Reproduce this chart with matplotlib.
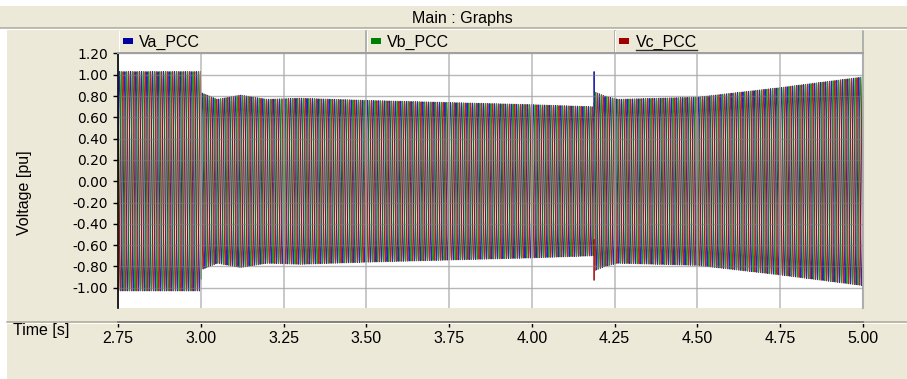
import numpy as np
import matplotlib
matplotlib.use("Agg")
import matplotlib.pyplot as plt
from matplotlib.patches import Rectangle
from matplotlib.lines import Line2D

# Peak value (pu) of the PCC phase voltages at key instants
env_time = [2.75, 2.999, 3.003, 3.05, 3.12, 3.20, 3.30, 3.50, 3.75, 4.00,
            4.186, 4.190, 4.22, 4.26, 4.50, 4.75, 5.00]
env_peak = [1.03, 1.03, 0.83, 0.77, 0.81, 0.77, 0.78, 0.76, 0.74, 0.72,
            0.70, 0.84, 0.80, 0.77, 0.79, 0.88, 0.98]

# Switching transient at the PCC
transient_time = 4.188
va_transient = 1.03
vc_transient = -0.93

freq_hz = 60.0
series_names = ["Va_PCC", "Vb_PCC", "Vc_PCC"]
phase_shift_deg = [0.0, -120.0, 120.0]
series_colors = ["#0000A0", "#008000", "#A00000"]

y_ticks = [-1.00, -0.80, -0.60, -0.40, -0.20, 0.00, 0.20, 0.40, 0.60, 0.80, 1.00, 1.20]
x_ticks = [2.75, 3.00, 3.25, 3.50, 3.75, 4.00, 4.25, 4.50, 4.75, 5.00]

plt.rcParams["font.family"] = ["Liberation Sans", "DejaVu Sans"]

W, H = 907, 379
BEIGE = "#ECE9D8"
EDGE = "#ACA899"


def fx(px):
    return px / W


def fy(py):
    return 1 - py / H


fig = plt.figure(figsize=(W / 100, H / 100), dpi=100)
fig.patch.set_facecolor("white")


def rect(x0, y0, x1, y1, color, z=0):
    fig.add_artist(Rectangle((fx(x0), fy(y1)), (x1 - x0) / W, (y1 - y0) / H,
                             transform=fig.transFigure, facecolor=color,
                             edgecolor="none", zorder=z))


def hline(x0, x1, y, color, lw_px=1.0, z=1):
    fig.add_artist(Line2D([fx(x0), fx(x1)], [fy(y), fy(y)], transform=fig.transFigure,
                          color=color, lw=lw_px * 0.72, zorder=z))


def vline(x, y0, y1, color, lw_px=1.0, z=1):
    fig.add_artist(Line2D([fx(x), fx(x)], [fy(y0), fy(y1)], transform=fig.transFigure,
                          color=color, lw=lw_px * 0.72, zorder=z))


# Window frame: title band and main panel
rect(0, 6, W, 28, BEIGE)
hline(0, W, 28, EDGE, 1.5)
rect(7, 30, W, H, BEIGE)

fig.text(fx(462), fy(23), "Main : Graphs", ha="center", va="baseline", fontsize=11.5)

# Legend header boxes
x_left, x_right = 118, 863
box_w = (x_right - x_left) / 3
legend_texts = []
for i, (name, col) in enumerate(zip(series_names, series_colors)):
    bx = x_left + i * box_w
    rect(bx, 31, bx + box_w, 52, BEIGE, z=1)
    vline(bx + box_w, 31, 52, "#A0A0A0", 1.5, z=2)
    vline(bx + 0.5, 31, 52, "white", 1.0, z=2)
    rect(bx + 4.5, 38, bx + 14.5, 44, col, z=3)
    t = fig.text(fx(bx + 21), fy(47), name, ha="left", va="baseline", fontsize=11.5, zorder=3)
    legend_texts.append(t)
hline(x_left, x_right, 52.5, "#A0A0A0", 2.0, z=2)

# Main plot area
ax = fig.add_axes([fx(x_left), fy(308), (x_right - x_left) / W, (308 - 53.5) / H])
ax.set_facecolor("white")
ax.set_xlim(2.75, 5.0)
ax.set_ylim(-1.19, 1.2)

t = np.arange(2.75, 5.0 + 1e-9, 1.0 / (freq_hz * 48))
amp = np.interp(t, env_time, env_peak)
k_tr = int(np.argmin(np.abs(t - transient_time)))
for name, shift, col in zip(series_names, phase_shift_deg, series_colors):
    v = amp * np.sin(2 * np.pi * freq_hz * t + np.deg2rad(shift))
    if name == "Va_PCC":
        v[k_tr] = va_transient
    if name == "Vc_PCC":
        v[k_tr] = vc_transient
    ax.plot(t, v, color=col, lw=0.7, alpha=0.85, zorder=2, antialiased=True)

for yv in y_ticks:
    ax.axhline(yv, color="#7C7C7C", lw=1.0, alpha=0.55, zorder=3)
for xv in x_ticks:
    ax.axvline(xv, color="#A8A8A8", lw=1.1, alpha=0.8, zorder=3)

for side in ["top", "bottom"]:
    ax.spines[side].set_visible(False)
ax.spines["left"].set_color("black")
ax.spines["left"].set_linewidth(1.2)
ax.spines["left"].set_zorder(5)
ax.spines["right"].set_color("#B0B0B0")
ax.spines["right"].set_linewidth(1.5)
ax.set_xticks([])
ax.set_yticks(y_ticks)
ax.set_yticklabels([f"{v:.2f}" for v in y_ticks], fontfamily="DejaVu Sans", fontsize=10)
ax.tick_params(axis="y", direction="out", length=3.6, width=1.0, pad=3.5, color="black")

fig.text(fx(25), fy(193), "Voltage [pu]", rotation=90, ha="center", va="center", fontsize=11.5)

# Time axis strip
hline(7, W, 321.5, EDGE, 1.5, z=1)
hline(7, W, 323, "white", 1.0, z=1)
ax2 = fig.add_axes([fx(x_left), fy(321.5), (x_right - x_left) / W, 0.0001])
ax2.set_xlim(2.75, 5.0)
ax2.set_yticks([])
ax2.patch.set_visible(False)
for side in ["top", "left", "right"]:
    ax2.spines[side].set_visible(False)
ax2.spines["bottom"].set_color("black")
ax2.spines["bottom"].set_linewidth(1.3)
ax2.set_xticks(x_ticks)
ax2.set_xticklabels([f"{v:.2f}" for v in x_ticks], fontsize=11.5)
ax2.tick_params(axis="x", direction="out", length=3.6, width=1.0, pad=3.0)

fig.text(fx(13), fy(335), "Time [s]", ha="left", va="baseline", fontsize=11.5)

# Underline on the active legend entry
fig.canvas.draw()
bb = legend_texts[2].get_window_extent()
fig.add_artist(Line2D([bb.x0 / W, bb.x1 / W], [fy(50), fy(50)], transform=fig.transFigure,
                      color="#333333", lw=1.0, zorder=4))

fig.savefig("out.png", dpi=100)
